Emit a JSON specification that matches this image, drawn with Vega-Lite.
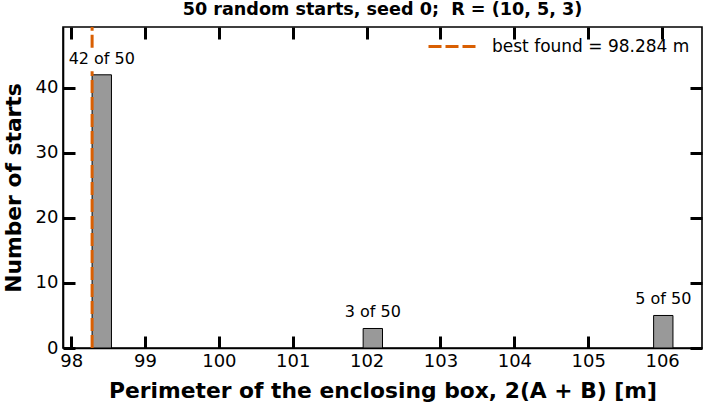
{
  "$schema": "https://vega.github.io/schema/vega-lite/v6.json",
  "width": 639,
  "height": 321,
  "autosize": "none",
  "padding": {"left": 63, "top": 27, "right": 6, "bottom": 60},
  "background": "white",
  "title": {
    "text": "50 random starts, seed 0;\u00a0 R = (10, 5, 3)",
    "fontSize": 17.6,
    "fontWeight": "bold",
    "font": "DejaVu Sans",
    "color": "black",
    "anchor": "middle",
    "offset": 7
  },
  "config": {
    "font": "DejaVu Sans",
    "view": {"stroke": "black", "strokeWidth": 1.6},
    "axis": {
      "grid": false,
      "domainColor": "black",
      "domainWidth": 1.6,
      "labelColor": "black",
      "labelFontSize": 18,
      "titleColor": "black",
      "titleFontSize": 21.8,
      "titleFontWeight": "bold"
    }
  },
  "datasets": {
    "bins": [
      {"x0": 98.284, "x1": 98.546, "count": 42, "label": "42 of 50"},
      {"x0": 101.953, "x1": 102.215, "count": 3, "label": "3 of 50"},
      {"x0": 105.885, "x1": 106.147, "count": 5, "label": "5 of 50"}
    ],
    "best": [
      {"x": 98.284, "y": 0, "y2": 42.55, "series": "best found = 98.284 m"},
      {"x": 98.284, "y": 46.15, "y2": 49.35, "series": "best found = 98.284 m"}
    ]
  },
  "layer": [
    {
      "data": {"name": "bins"},
      "mark": {"type": "rect", "fill": "#999999", "stroke": "black", "strokeWidth": 1},
      "encoding": {
        "x": {
          "field": "x0",
          "type": "quantitative",
          "scale": {"domain": [97.89, 106.54], "nice": false, "zero": false},
          "axis": {
            "orient": "bottom",
            "values": [98, 99, 100, 101, 102, 103, 104, 105, 106],
            "ticks": false,
            "labelPadding": 4,
            "titlePadding": 10,
            "title": "Perimeter of the enclosing box, 2(A + B) [m]"
          }
        },
        "x2": {"field": "x1"},
        "y": {
          "field": "count",
          "type": "quantitative",
          "scale": {"domain": [0, 49.35], "nice": false},
          "axis": {
            "orient": "left",
            "values": [0, 10, 20, 30, 40],
            "ticks": false,
            "labelPadding": 5,
            "titlePadding": 10,
            "title": "Number of starts"
          }
        },
        "y2": {"datum": 0}
      }
    },
    {
      "data": {"name": "best"},
      "mark": {"type": "rule", "strokeWidth": 3, "strokeDash": [13, 4]},
      "encoding": {
        "x": {
          "field": "x",
          "type": "quantitative",
          "scale": {"domain": [97.89, 106.54], "nice": false, "zero": false},
          "axis": {
            "orient": "top",
            "offset": -321,
            "values": [98, 99, 100, 101, 102, 103, 104, 105, 106],
            "tickSize": 12,
            "tickWidth": 3,
            "tickColor": "black",
            "domain": false,
            "labels": false,
            "title": null
          }
        },
        "y": {
          "field": "y",
          "type": "quantitative",
          "scale": {"domain": [0, 49.35], "nice": false},
          "axis": {
            "orient": "right",
            "offset": -639,
            "values": [0, 10, 20, 30, 40],
            "tickSize": 12,
            "tickWidth": 3,
            "tickColor": "black",
            "domain": false,
            "labels": false,
            "title": null
          }
        },
        "y2": {"field": "y2"},
        "color": {
          "field": "series",
          "type": "nominal",
          "scale": {"range": ["#d95f02"]},
          "legend": {
            "title": null,
            "orient": "none",
            "legendX": 382,
            "legendY": 11,
            "padding": 0,
            "labelFontSize": 17,
            "labelColor": "black",
            "labelLimit": 400,
            "labelOffset": 30,
            "symbolType": "M-5,0L5,0",
            "symbolSize": 100,
            "symbolStrokeWidth": 3,
            "symbolDash": [13, 4]
          }
        }
      }
    },
    {
      "data": {"name": "bins"},
      "transform": [{"calculate": "(datum.x0 + datum.x1) / 2", "as": "xc"}],
      "mark": {"type": "text", "fontSize": 16, "color": "black", "baseline": "alphabetic", "dy": -11},
      "encoding": {
        "x": {
          "field": "xc",
          "type": "quantitative",
          "scale": {"domain": [97.89, 106.54], "nice": false, "zero": false},
          "axis": {
            "orient": "bottom",
            "offset": -321,
            "values": [98, 99, 100, 101, 102, 103, 104, 105, 106],
            "tickSize": 12,
            "tickWidth": 3,
            "tickColor": "black",
            "domain": false,
            "labels": false,
            "title": null
          }
        },
        "y": {
          "field": "count",
          "type": "quantitative",
          "scale": {"domain": [0, 49.35], "nice": false},
          "axis": {
            "orient": "left",
            "offset": -639,
            "values": [0, 10, 20, 30, 40],
            "tickSize": 12,
            "tickWidth": 3,
            "tickColor": "black",
            "domain": false,
            "labels": false,
            "title": null
          }
        },
        "text": {"field": "label"}
      }
    }
  ],
  "resolve": {"axis": {"x": "independent", "y": "independent"}}
}
